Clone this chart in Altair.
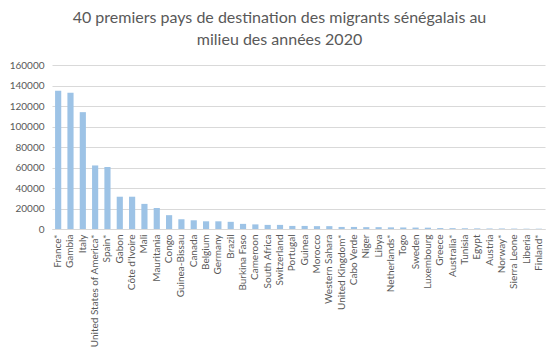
import altair as alt
import pandas as pd

countries = ["France*", "Gambia", "Italy", "United States of America*", "Spain*", "Gabon",
             "Côte d'Ivoire", "Mali", "Mauritania", "Congo", "Guinea-Bissau", "Canada",
             "Belgium", "Germany", "Brazil", "Burkina Faso", "Cameroon", "South Africa",
             "Switzerland", "Portugal", "Guinea", "Morocco", "Western Sahara",
             "United Kingdom*", "Cabo Verde", "Niger", "Libya", "Netherlands*", "Togo",
             "Sweden", "Luxembourg", "Greece", "Australia*", "Tunisia", "Egypt", "Austria",
             "Norway*", "Sierra Leone", "Liberia", "Finland*"]
migrants = [135000, 133000, 114000, 62000, 60500, 31500, 31500, 24500, 20500, 13500,
            9500, 8500, 7500, 7500, 7000, 5000, 4500, 4000, 4000, 3000,
            3000, 2800, 2800, 2000, 2000, 1800, 1800, 1600, 1500, 1400,
            1300, 900, 800, 700, 600, 500, 500, 400, 300, 300]
y_ticks = [0, 20000, 40000, 60000, 80000, 100000, 120000, 140000, 160000]

df = pd.DataFrame({"pays": countries, "migrants": migrants})

font = "Lato"
gray = "#595959"

chart = alt.Chart(df).mark_bar(color="#9DC3E6").encode(
    x=alt.X("pays:N", sort=None, title=None,
            scale=alt.Scale(paddingInner=0.5, paddingOuter=0.25),
            axis=alt.Axis(labelAngle=-90, labelFont=font, labelFontSize=10,
                          labelColor=gray, ticks=False, domainColor="#D9D9D9",
                          labelPadding=5, labelLimit=200)),
    y=alt.Y("migrants:Q", title=None,
            scale=alt.Scale(domain=[0, 160000], nice=False),
            axis=alt.Axis(values=y_ticks, format="d", labelFont=font, labelFontSize=10,
                          labelColor=gray, ticks=False, domain=False,
                          gridColor="#D9D9D9", labelPadding=8)),
).properties(
    width=493, height=164,
    title=alt.Title(["40 premiers pays de destination des migrants sénégalais au",
                     "milieu des années 2020"],
                    font=font, fontSize=16, fontWeight="normal", color=gray,
                    anchor="middle", dx=-19, offset=12, lineHeight=22),
    autosize=alt.AutoSizeParams(type="none"),
    padding={"left": 52, "top": 65, "right": 13, "bottom": 124},
).configure_view(stroke=None)

chart.save("out.html", embed_options={"renderer": "svg", "actions": False})
